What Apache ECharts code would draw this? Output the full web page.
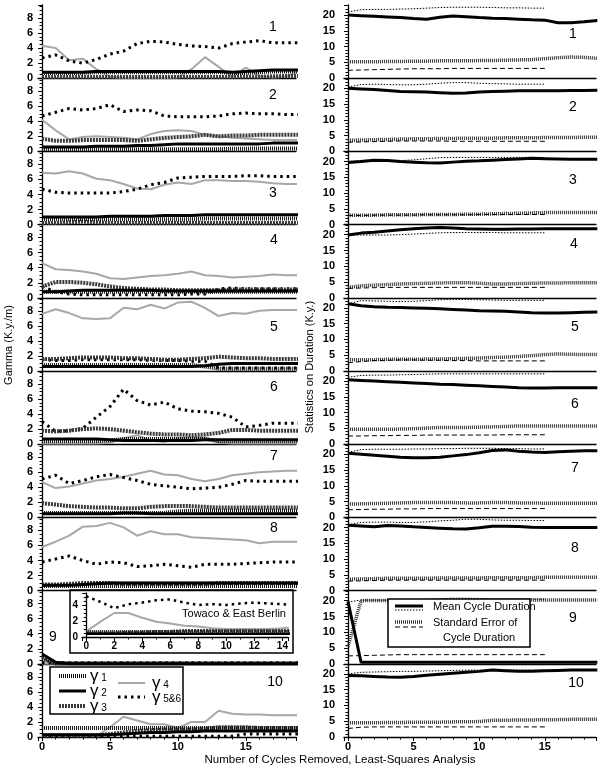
<!DOCTYPE html>
<html><head><meta charset="utf-8">
<script src="https://cdn.jsdelivr.net/npm/echarts@6/dist/echarts.min.js"></script>
<style>html,body{margin:0;padding:0;background:#fff}#c{width:600px;height:769px}</style>
</head><body><div id="c"></div><script>
// ---------- DATA ----------
const cycles = [0,1,2,3,4,5,6,7,8,9,10,11,12,13,14,15,16,17,18,19];
const cyclesShort = [0,1,2,3,4,5,6,7,8,9,10,11,12,13,14,15];
const insetCycles = [0,1,2,3,4,5,6,7,8,9,10,11,12,13,14,15];
const panelNames = ['1','2','3','4','5','6','7','8','9','10'];
const gammaTicks = [0,2,4,6,8];
const durationTicks = [0,5,10,15,20];

// Gamma (K.y./m), left column, one row per panel
const gamma1 = [
 [0.7,0.7,0.7,0.7,0.8,0.8,0.8,0.8,0.8,0.8,0.8,0.8,0.8,0.8,0.7,0.7,0.8,0.9,0.9,0.9],
 [0.3,0.3,0.3,0.3,0.3,0.3,0.3,0.3,0.3,0.3,0.3,0.3,0.3,0.3,0.35,0.35,0.4,0.4,0.4,0.4],
 [0.7,0.7,0.7,0.7,0.7,0.7,0.7,0.7,0.7,0.7,0.7,0.7,0.8,0.8,0.8,0.8,0.8,0.8,0.8,0.8],
 [0.8,0.8,0.8,0.8,0.8,0.8,0.8,0.8,0.8,0.8,0.8,0.8,0.8,0.8,0.8,0.8,0.8,0.8,0.8,0.8],
 [0.8,0.8,0.8,0.8,0.8,0.8,0.8,0.8,0.8,0.8,0.8,0.8,0.6,0.3,0.3,0.3,0.3,0.3,0.3,0.3],
 [0.4,0.4,0.4,0.4,0.4,0.5,0.7,0.7,0.7,0.7,0.7,0.7,0.7,0.4,0.4,0.4,0.4,0.4,0.4,0.4],
 [0.6,0.6,0.6,0.6,0.6,0.6,0.6,0.6,0.6,0.6,0.8,0.9,0.9,0.9,0.9,0.9,0.9,0.9,0.9,0.9],
 [0.6,0.6,0.6,0.6,0.6,0.6,0.6,0.6,0.6,0.6,0.6,0.6,0.6,0.6,0.6,0.6,0.6,0.6,0.6,0.6],
 [0.6,0.05,0.05,0.05,0.05,0.05,0.05,0.05,0.05,0.05,0.05,0.05,0.05,0.05,0.05,0.05,0.05,0.05,0.05,0.05],
 [1.2,1.2,1.2,1.2,1.2,1.2,1.2,1.2,1.2,1.2,1.2,1.2,1.2,1.2,1.2,1.2,1.2,1.2,1.2,1.2]
];
const gamma2 = [
 [0.8,0.8,0.8,0.8,0.9,0.9,0.9,0.9,0.9,0.9,0.9,0.9,0.9,0.9,0.8,0.9,1.0,1.1,1.1,1.1],
 [0.6,0.6,0.6,0.6,0.7,0.7,0.7,0.8,0.8,0.9,1.0,1.0,1.0,1.0,1.0,1.0,1.0,1.1,1.1,1.1],
 [1.0,1.0,1.0,1.0,1.0,1.1,1.1,1.1,1.1,1.2,1.2,1.2,1.3,1.3,1.3,1.3,1.3,1.3,1.3,1.3],
 [0.8,0.8,0.9,1.0,1.0,1.0,1.0,1.0,1.0,0.9,0.9,0.9,0.9,0.9,0.9,0.9,0.9,0.9,0.9,0.9],
 [0.6,0.6,0.6,0.6,0.6,0.6,0.6,0.6,0.6,0.6,0.6,0.6,0.7,0.9,1.0,1.0,1.0,1.0,1.0,1.0],
 [0.7,0.7,0.7,0.7,0.7,0.6,0.5,0.5,0.5,0.5,0.5,0.5,0.6,0.6,0.6,0.6,0.6,0.6,0.6,0.6],
 [0.5,0.5,0.5,0.5,0.5,0.5,0.6,0.6,0.5,0.5,0.5,0.5,0.5,0.5,0.5,0.5,0.5,0.5,0.5,0.5],
 [0.7,0.7,0.7,0.8,0.9,1.0,1.0,1.0,1.0,1.0,1.0,1.0,1.0,1.0,1.0,1.0,1.0,1.0,1.0,1.0],
 [1.3,0.2,0,0,0,0,0,0,0,0,0,0,0,0,0,0,0,0,0,0],
 [0.3,0.3,0.3,0.3,0.3,0.3,0.4,0.5,0.6,0.6,0.7,0.7,0.8,0.8,0.8,0.8,0.8,0.8,0.8,0.8]
];
const gamma3 = [
 [0.15,0.15,0.15,0.15,0.15,0.15,0.15,0.15,0.15,0.15,0.15,0.15,0.15,0.15,0.15,0.2,0.2,0.25,0.3,0.3],
 [1.7,1.4,1.4,1.5,1.5,1.5,1.5,1.4,1.6,1.8,1.9,2.0,2.2,2.0,2.1,2.1,2.2,2.2,2.2,2.2],
 [0.2,0.2,0.3,0.4,0.3,0.2,0.2,0.2,0.2,0.2,0.2,0.2,0.2,0.2,0.2,0.2,0.2,0.2,0.2,0.2],
 [1.5,2.1,2.1,2.0,1.8,1.5,1.3,1.2,1.1,1.1,1.0,1.0,1.0,1.0,1.1,1.1,1.1,1.1,1.1,1.1],
 [1.6,1.6,1.7,1.8,1.8,1.8,1.7,1.7,1.6,1.5,1.5,1.6,1.7,1.9,1.8,1.7,1.7,1.6,1.6,1.6],
 [1.8,1.7,1.8,2.0,2.1,2.0,1.8,1.6,1.4,1.3,1.3,1.2,1.3,1.5,1.9,1.9,1.8,1.8,1.8,1.8],
 [1.9,1.7,1.5,1.4,1.3,1.3,1.2,1.2,1.4,1.5,1.5,1.5,1.4,1.3,1.3,1.3,1.3,1.3,1.3,1.3],
 [0.8,0.8,0.9,1.0,1.0,1.0,0.9,0.9,0.9,0.9,0.9,0.9,0.9,1.0,1.0,1.0,1.0,1.0,1.0,1.0],
 [0.9,0.05,0.05,0.05,0.05,0.05,0.05,0.05,0.05,0.05,0.05,0.05,0.05,0.05,0.05,0.05,0.05,0.05,0.05,0.05],
 [0.2,0.2,0.2,0.2,0.2,0.4,0.6,0.8,0.9,1.0,1.0,1.0,1.1,1.3,1.3,1.3,1.2,1.2,1.2,1.2]
];
const gamma4 = [
 [4.3,4.0,2.4,2.6,1.2,0.2,0,0,0,0,0.1,1.2,2.8,1.5,0.2,1.4,0.3,0.1,0.2,1.0],
 [4.2,2.8,1.6,1.9,2.0,1.9,1.8,1.6,2.3,2.7,2.8,2.7,2.2,2.0,1.8,1.7,1.6,1.5,1.5,1.5],
 [6.9,6.8,7.1,6.8,6.1,5.9,5.4,4.8,4.7,5.3,5.6,5.4,5.9,5.9,5.8,5.8,5.7,5.5,5.4,5.4],
 [4.6,3.8,3.7,3.5,3.2,2.6,2.5,2.7,2.9,3.0,3.2,3.5,3.0,2.9,2.7,2.8,2.9,3.1,3.0,3.0],
 [7.6,8.2,7.7,7.0,6.9,7.0,8.4,8.2,8.8,8.3,9.1,9.2,8.4,7.3,7.7,7.6,8.0,8.1,8.1,8.1],
 [0.1,0.1,0.1,0.1,0.1,0.2,0.8,1.2,0.5,0.3,0.8,0.9,0.9,0.2,0.1,0.1,0.1,0.1,0.1,0.1],
 [4.7,3.9,4.1,4.5,4.9,5.1,5.4,5.8,6.2,5.7,5.6,5.1,4.8,5.1,5.6,5.8,6.0,6.1,6.2,6.2],
 [5.8,6.5,7.3,8.5,8.6,9.0,8.4,7.3,7.9,7.5,7.5,7.1,7.0,6.9,6.8,6.7,6.3,6.5,6.5,6.5],
 [0,0,0,0,0,0,0,0,0,0,0,0,0,0,0,0,0,0,0,0],
 [0.3,0.3,0.3,0.3,0.1,1.3,2.7,2.2,1.7,1.7,1.2,2.0,2.0,3.5,3.1,3.0,3.0,2.9,2.9,2.9]
];
const gamma56 = [
 [2.7,3.1,2.3,2.0,2.5,3.2,3.6,4.6,4.9,4.8,4.5,4.3,4.2,4.0,4.6,4.8,5.0,4.7,4.7,4.7],
 [4.7,5.2,5.7,5.5,5.7,6.2,5.3,5.5,5.4,4.7,4.6,4.6,4.6,4.7,5.0,5.1,5.0,5.0,4.9,4.9],
 [4.7,4.3,4.2,4.2,4.2,4.2,4.4,4.7,5.3,5.6,6.2,6.3,6.4,6.4,6.4,6.5,6.5,6.4,6.4,6.4],
 [1.5,0.8,0.5,0.4,0.4,0.4,0.4,0.4,0.4,0.4,0.4,0.5,0.5,1.2,1.3,1.2,1.2,1.2,1.2,1.2],
 [1.5,1.4,1.4,1.5,1.5,1.5,1.5,1.5,1.4,1.4,1.4,1.3,1.3,0.4,0.4,0.4,0.4,0.4,0.4,0.4],
 [3.0,1.7,1.8,2.1,3.6,5.0,7.3,5.8,5.2,5.6,4.7,4.4,4.3,4.1,3.6,2.3,2.5,2.8,2.8,2.8],
 [5.1,5.6,4.5,4.9,5.4,5.7,5.3,4.9,4.4,4.2,4.0,3.8,3.9,4.0,4.4,4.9,4.8,4.8,4.8,4.8],
 [3.8,4.2,4.6,4.0,3.5,3.8,3.7,3.2,3.3,3.5,3.3,3.1,3.5,3.5,3.5,3.6,3.7,3.8,3.8,3.8],
 [0.15,0.15,0.15,0.15,0.15,0.15,0.15,0.15,0.15,0.15,0.15,0.15,0.15,0.15,0.15,0.15,0.15,0.15,0.15,0.15],
 [0.1,0.1,0.1,0.1,0.1,0.1,0.1,0.1,0.1,0.1,0.1,0.1,0.1,0.1,0.1,0.4,0.4,0.4,0.4,0.4]
];

// Inset: Towaco & East Berlin
const insetGamma1 = [0.7,0.7,0.7,0.7,0.7,0.7,0.7,0.7,0.7,0.7,0.7,0.7,0.7,0.7,0.7,0.7];
const insetGamma2 = [0.4,0.4,0.4,0.4,0.4,0.4,0.4,0.4,0.4,0.4,0.4,0.4,0.4,0.4,0.4,0.4];
const insetGamma3 = [0.5,0.5,0.5,0.6,0.6,0.7,0.7,0.8,0.8,0.8,0.8,0.8,0.8,0.8,0.8,0.8];
const insetGamma4 = [0.7,1.9,3.0,3.0,2.4,1.9,1.7,1.4,1.3,1.1,1.0,1.0,1.0,1.0,1.1,1.3];
const insetGamma56 = [5.1,4.4,3.6,4.1,4.3,4.6,4.7,4.3,4.0,4.1,4.0,4.2,4.3,4.2,4.1,4.0];
const insetTicks = [0,2,4,6,8,10,12,14];

// Statistics on duration (K.y.), right column
const meanDuration = [
 [20.0,19.8,19.6,19.4,19.2,18.9,18.7,19.3,19.7,19.5,19.2,19.0,18.9,18.7,18.5,18.4,17.6,17.6,17.9,18.3],
 [20.0,19.8,19.6,19.3,19.0,18.9,18.8,18.6,18.4,18.5,18.8,19.0,19.1,19.2,19.2,19.2,19.2,19.3,19.3,19.4],
 [19.7,20.0,20.4,20.3,20.0,19.8,19.6,19.5,19.8,20.1,20.2,20.4,20.6,20.8,21.0,20.9,20.8,20.7,20.7,20.7],
 [19.9,20.5,20.8,21.2,21.6,21.9,22.1,22.3,22.1,21.9,21.8,21.7,21.7,21.8,21.8,21.9,21.9,21.9,21.9,21.9],
 [21.3,20.7,20.4,20.2,20.1,20.0,19.9,19.7,19.5,19.3,19.1,19.0,18.9,18.7,18.5,18.4,18.4,18.5,18.6,18.7],
 [20.4,20.2,20.0,19.8,19.6,19.4,19.2,19.0,18.9,18.7,18.5,18.3,18.1,17.9,17.8,17.8,17.9,17.9,17.9,17.9],
 [20.3,20.0,19.7,19.4,19.1,18.9,18.9,19.1,19.5,19.9,20.5,21.2,21.4,21.0,20.7,20.6,20.8,21.0,21.1,21.1],
 [20.7,20.5,20.2,20.6,20.5,20.2,20.0,19.8,19.6,19.5,19.9,20.4,20.4,20.3,20.1,20.0,20.0,20.0,20.0,20.0],
 [19.8,0.5,0.5,0.5,0.5,0.5,0.5,0.5,0.5,0.5,0.5,0.5,0.5,0.5,0.5,0.5,0.5,0.5,0.5,0.5],
 [19.5,19.4,19.2,19.0,18.9,19.2,19.6,19.9,20.2,20.5,20.8,21.2,21.0,20.8,20.8,21.0,21.1,21.2,21.2,21.2]
];
const meanDuration2 = [
 [21.0,21.7,21.8,21.8,21.9,22.0,22.2,22.4,22.5,22.5,22.5,22.4,22.3,22.3,22.2,22.2],
 [20.4,21.2,21.3,21.2,21.1,21.1,21.3,21.6,21.8,21.8,21.6,21.5,21.4,21.3,21.3,21.3],
 [20.0,20.3,20.5,20.4,20.3,20.5,20.9,21.2,21.3,21.3,21.3,21.3,21.3,21.3,21.3,21.3],
 [19.9,19.9,19.9,19.9,20.0,20.2,20.4,20.6,20.7,20.7,20.7,20.7,20.6,20.6,20.6,20.6],
 [21.3,22.3,22.2,22.1,22.0,22.1,22.3,22.6,22.7,22.7,22.6,22.5,22.4,22.4,22.4,22.4],
 [21.2,21.8,21.9,21.9,22.0,22.1,22.2,22.3,22.3,22.3,22.3,22.3,22.3,22.3,22.3,22.3],
 [20.6,21.5,21.6,21.6,21.6,21.7,21.7,21.8,21.8,21.9,21.9,21.9,21.8,21.8,21.7,21.7],
 [20.9,21.6,21.7,21.7,21.6,21.6,21.8,22.1,22.3,22.6,22.6,22.4,22.3,22.3,22.2,22.2],
 [19.6,20.2,20.2,20.2,20.2,20.2,20.4,20.6,20.8,20.8,20.7,20.6,20.5,20.5,20.5,20.5],
 [20.0,20.5,20.6,20.7,20.8,20.8,20.9,21.0,21.1,21.2,21.2,21.2,21.2,21.2,21.2,21.2]
];
const stdError = [
 [5.2,5.2,5.2,5.3,5.3,5.4,5.4,5.5,5.5,5.5,5.6,5.6,5.7,5.8,5.9,6.2,6.5,6.7,6.6,6.3],
 [3.5,3.6,3.7,3.8,3.9,4.0,4.0,4.1,4.1,4.2,4.2,4.2,4.3,4.3,4.3,4.4,4.4,4.4,4.5,4.5],
 [3.0,3.0,3.0,3.1,3.1,3.1,3.2,3.2,3.2,3.3,3.3,3.4,3.5,3.6,3.7,3.8,3.8,3.8,3.8,3.8],
 [3.3,3.8,4.0,4.2,4.4,4.5,4.6,4.7,4.8,4.8,4.6,4.4,4.4,4.5,4.6,4.7,4.7,4.8,4.8,4.8],
 [3.6,3.6,3.6,3.7,3.7,3.7,3.8,3.8,3.9,4.0,4.1,4.3,4.4,4.6,4.9,5.2,5.4,5.3,5.2,5.2],
 [4.7,4.7,4.7,4.7,4.8,4.9,5.1,5.3,5.3,5.3,5.4,5.5,5.6,5.8,5.8,5.8,5.8,5.8,5.8,5.8],
 [4.2,4.3,4.4,4.5,4.6,4.7,4.7,4.7,4.7,4.6,4.6,4.7,4.7,4.6,4.6,4.5,4.5,4.5,4.5,4.5],
 [3.6,3.7,3.8,3.9,3.9,3.9,3.9,4.0,4.0,4.0,4.0,4.1,4.1,4.1,4.1,4.2,4.2,4.2,4.2,4.2],
 [5.4,20.0,20.1,20.1,20.1,20.1,20.1,20.1,20.1,20.1,20.1,20.1,20.2,20.2,20.2,20.2,20.2,20.2,20.2,20.2],
 [4.5,4.5,4.5,4.6,4.6,4.7,4.7,4.7,4.8,4.8,4.9,5.3,5.3,5.4,5.4,5.5,5.5,5.6,5.6,5.6]
];
const stdError2 = [
 [2.5,2.6,2.7,2.8,2.9,3.0,3.0,3.0,3.1,3.1,3.1,3.1,3.1,3.1,3.1,3.1],
 [2.9,3.0,3.1,3.2,3.3,3.3,3.3,3.3,3.2,3.2,3.2,3.2,3.2,3.2,3.2,3.2],
 [2.9,2.9,3.0,3.0,3.0,3.0,3.1,3.1,3.1,3.1,3.2,3.2,3.2,3.2,3.2,3.2],
 [3.0,3.1,3.2,3.3,3.3,3.3,3.3,3.3,3.3,3.3,3.3,3.3,3.3,3.3,3.3,3.3],
 [2.6,3.0,3.3,3.4,3.5,3.5,3.4,3.4,3.3,3.3,3.2,3.2,3.2,3.2,3.2,3.2],
 [2.6,2.6,2.7,2.7,2.8,2.8,2.9,2.9,2.9,2.9,2.9,2.9,3.0,3.0,3.0,3.0],
 [2.4,2.5,2.6,2.6,2.7,2.7,2.8,2.8,2.8,2.8,2.8,2.8,2.8,2.8,2.8,2.8],
 [3.0,3.1,3.2,3.3,3.3,3.3,3.3,3.3,3.3,3.3,3.3,3.3,3.3,3.3,3.3,3.3],
 [2.5,2.6,2.7,2.8,2.9,2.9,2.9,2.9,2.9,2.9,2.9,2.9,2.9,2.9,2.9,2.9],
 [2.7,3.1,3.2,3.2,3.2,3.2,3.2,3.2,3.2,3.2,3.2,3.2,3.2,3.2,3.2,3.2]
];

// ---------- STYLES / LAYOUT ----------
const FONT = 'Liberation Sans, Arial, sans-serif';
const ST = {
  g4:  {color:'#a8a8a8', width:2, type:'solid'},
  g56: {color:'#000', width:3, type:[2.5,4]},
  g3:  {color:'#3a3a3a', width:4, type:[2,1]},
  g1:  {color:'#111', width:4, type:[1,1]},
  g2:  {color:'#000', width:3, type:'solid'},
  m1:  {color:'#000', width:3, type:'solid'},
  m2:  {color:'#000', width:1, type:[1.5,1.5]},
  s1:  {color:'#333', width:3.5, type:[1,1]},
  s2:  {color:'#000', width:1, type:[5,3]}
};
const PANEL_TOP = 5, PANEL_H = 73.2;
const grids = [], xAxes = [], yAxes = [], series = [];

function pairs(xs, ys){ return ys.map((v,k)=>[xs[k], v]); }
function addLine(gi, xs, ys, st){
  series.push({type:'line', xAxisIndex:gi, yAxisIndex:gi, data:pairs(xs,ys), symbol:'none',
    silent:true, animation:false, clip:true, lineStyle:Object.assign({cap:'butt'}, st)});
}
function xAx(gi, bottom, min, max, split, fs){
  return {gridIndex:gi, type:'value', min:min, max:max, splitNumber:split,
    axisLine:{show:true, onZero:false, lineStyle:{color:'#000', width:1.3}},
    axisTick:{show:bottom, length:4, lineStyle:{color:'#000', width:1}},
    minorTick:{show:bottom, splitNumber:split===4?5:2, length:2.5, lineStyle:{color:'#000', width:1}},
    axisLabel:{show:bottom, showMinLabel:false, showMaxLabel:false, color:'#000', fontSize:fs,
      fontWeight:'bold', fontFamily:FONT, margin:4},
    splitLine:{show:false}};
}
function yAx(gi, max, interval, minorSplit, fs, margin){
  return {gridIndex:gi, type:'value', min:0, max:max, interval:interval,
    axisLine:{show:true, lineStyle:{color:'#000', width:1.3}},
    axisTick:{show:true, length:4, lineStyle:{color:'#000', width:1}},
    minorTick:{show:true, splitNumber:minorSplit, length:2.5, lineStyle:{color:'#000', width:1}},
    axisLabel:{showMaxLabel:false, color:'#000', fontSize:fs, fontWeight:'bold', fontFamily:FONT, margin:margin},
    splitLine:{show:false}};
}

// left column: grids 0..9, right column: grids 10..19
for (let i=0;i<10;i++){
  const top = PANEL_TOP + PANEL_H*i;
  grids.push({left:38, width:258, top:top, height:PANEL_H});
  xAxes.push(xAx(i, i===9, -0.3, 18.7, 4, 11));
  yAxes.push(yAx(i, 9.73, 2, 4, 11, 5));
  addLine(i, cycles, gamma4[i], ST.g4);
  addLine(i, cycles, gamma56[i], ST.g56);
  addLine(i, cycles, gamma3[i], ST.g3);
  addLine(i, cycles, gamma1[i], ST.g1);
  addLine(i, cycles, gamma2[i], ST.g2);
}
for (let i=0;i<10;i++){
  const gi = 10+i, top = PANEL_TOP + PANEL_H*i;
  grids.push({left:344, width:252, top:top, height:PANEL_H});
  xAxes.push(xAx(gi, i===9, -0.3, 18.9, 4, 11));
  yAxes.push(yAx(gi, 23.2, 5, 5, 11, 9));
  addLine(gi, cycles, stdError[i], ST.s1);
  addLine(gi, cyclesShort, stdError2[i], ST.s2);
  addLine(gi, cyclesShort, meanDuration2[i], ST.m2);
  addLine(gi, cycles, meanDuration[i], ST.m1);
}
// inset grid 20
grids.push({left:82, width:206, top:593, height:44});
xAxes.push(xAx(20, true, -0.3, 14.4, 7, 10));
xAxes[20].minorTick.splitNumber = 2;
yAxes.push(yAx(20, 5.5, 2, 4, 10, 4));
addLine(20, insetCycles, insetGamma4, ST.g4);
addLine(20, insetCycles, insetGamma56, Object.assign({}, ST.g56, {width:2.5}));
addLine(20, insetCycles, insetGamma3, Object.assign({}, ST.g3, {width:3}));
addLine(20, insetCycles, insetGamma1, Object.assign({}, ST.g1, {width:3}));
addLine(20, insetCycles, insetGamma2, Object.assign({}, ST.g2, {width:2.5}));

// ---------- GRAPHICS (labels, legends) ----------
const gfx = [];
const leftLabelPos = [[273,27],[273,95],[273,193],[274,240],[274,327],[274,387],[274,456],[274,528],[53,637],[275,682]];
const rightLabelPos = [[573,34],[573,107],[573,180],[574,244],[575,327],[575,404],[575,468],[575,548],[573,618],[576,683]];
panelNames.forEach((n,i)=>{
  gfx.push({type:'text', x:leftLabelPos[i][0], y:leftLabelPos[i][1], z:50,
    style:{text:n, fill:'#000', font:'14px '+FONT, textAlign:'center', textVerticalAlign:'middle'}});
  gfx.push({type:'text', x:rightLabelPos[i][0], y:rightLabelPos[i][1], z:50,
    style:{text:n, fill:'#000', font:'14px '+FONT, textAlign:'center', textVerticalAlign:'middle'}});
});
// axis titles
gfx.push({type:'text', x:9, y:345, rotation:Math.PI/2, z:50,
  style:{text:'Gamma (K.y./m)', fill:'#000', font:'11px '+FONT, textAlign:'center', textVerticalAlign:'middle'}});
gfx.push({type:'text', x:310, y:367, rotation:Math.PI/2, z:50,
  style:{text:'Statistics on Duration (K.y.)', fill:'#000', font:'11px '+FONT, textAlign:'center', textVerticalAlign:'middle'}});
gfx.push({type:'text', x:340, y:760, z:50,
  style:{text:'Number of Cycles Removed, Least-Squares Analysis', fill:'#000', font:'11.5px '+FONT, textAlign:'center', textVerticalAlign:'middle'}});
// inset box
gfx.push({type:'rect', shape:{x:70, y:590, width:223, height:63}, z:1,
  style:{fill:'none', stroke:'#000', lineWidth:1.5}});
gfx.push({type:'text', x:234, y:614, z:50,
  style:{text:'Towaco & East Berlin', fill:'#000', font:'11px '+FONT, textAlign:'center', textVerticalAlign:'middle'}});

function seg(x1,x2,y,st){
  return {type:'line', z:101, shape:{x1:x1,y1:y,x2:x2,y2:y},
    style:{stroke:st.color, lineWidth:st.width, lineDash:(st.type==='solid'?null:st.type), lineCap:'butt'}};
}
function gtxt(x,y,num){
  return {type:'text', x:x, y:y, z:101,
    style:{text:'{g|γ}{n| '+num+'}', textVerticalAlign:'middle', fill:'#000',
      rich:{g:{fontSize:17, fontFamily:FONT, fill:'#000'}, n:{fontSize:10, fontFamily:FONT, fill:'#000', padding:[4,0,0,0]}}}};
}
// gamma legend
gfx.push({type:'rect', z:100, shape:{x:50, y:667, width:133, height:47}, style:{fill:'#fff', stroke:'#000', lineWidth:1.5}});
gfx.push(seg(59,86,676,ST.g1)); gfx.push(gtxt(90,676,'1'));
gfx.push(seg(59,86,691,ST.g2)); gfx.push(gtxt(90,691,'2'));
gfx.push(seg(59,86,706,ST.g3)); gfx.push(gtxt(90,706,'3'));
gfx.push(seg(118,145,683,ST.g4)); gfx.push(gtxt(152,683,'4'));
gfx.push(seg(118,145,697,ST.g56)); gfx.push(gtxt(152,697,'5&6'));
// duration legend
gfx.push({type:'rect', z:100, shape:{x:388, y:599, width:142, height:48}, style:{fill:'#fff', stroke:'#000', lineWidth:1.5}});
gfx.push(seg(395,423,606,ST.m1)); gfx.push(seg(395,423,610,ST.m2));
gfx.push(seg(395,423,622,ST.s1)); gfx.push(seg(395,423,627,ST.s2));
gfx.push({type:'text', x:433, y:607, z:101, style:{text:'Mean Cycle Duration', fill:'#000', font:'11px '+FONT, textVerticalAlign:'middle'}});
gfx.push({type:'text', x:433, y:623, z:101, style:{text:'Standard Error of', fill:'#000', font:'11px '+FONT, textVerticalAlign:'middle'}});
gfx.push({type:'text', x:443, y:638, z:101, style:{text:'Cycle Duration', fill:'#000', font:'11px '+FONT, textVerticalAlign:'middle'}});

const chart = echarts.init(document.getElementById('c'), null, {renderer:'canvas'});
chart.setOption({
  backgroundColor:'#fff', animation:false,
  textStyle:{fontFamily:FONT},
  grid:grids, xAxis:xAxes, yAxis:yAxes, series:series, graphic:gfx
});
</script></body></html>
